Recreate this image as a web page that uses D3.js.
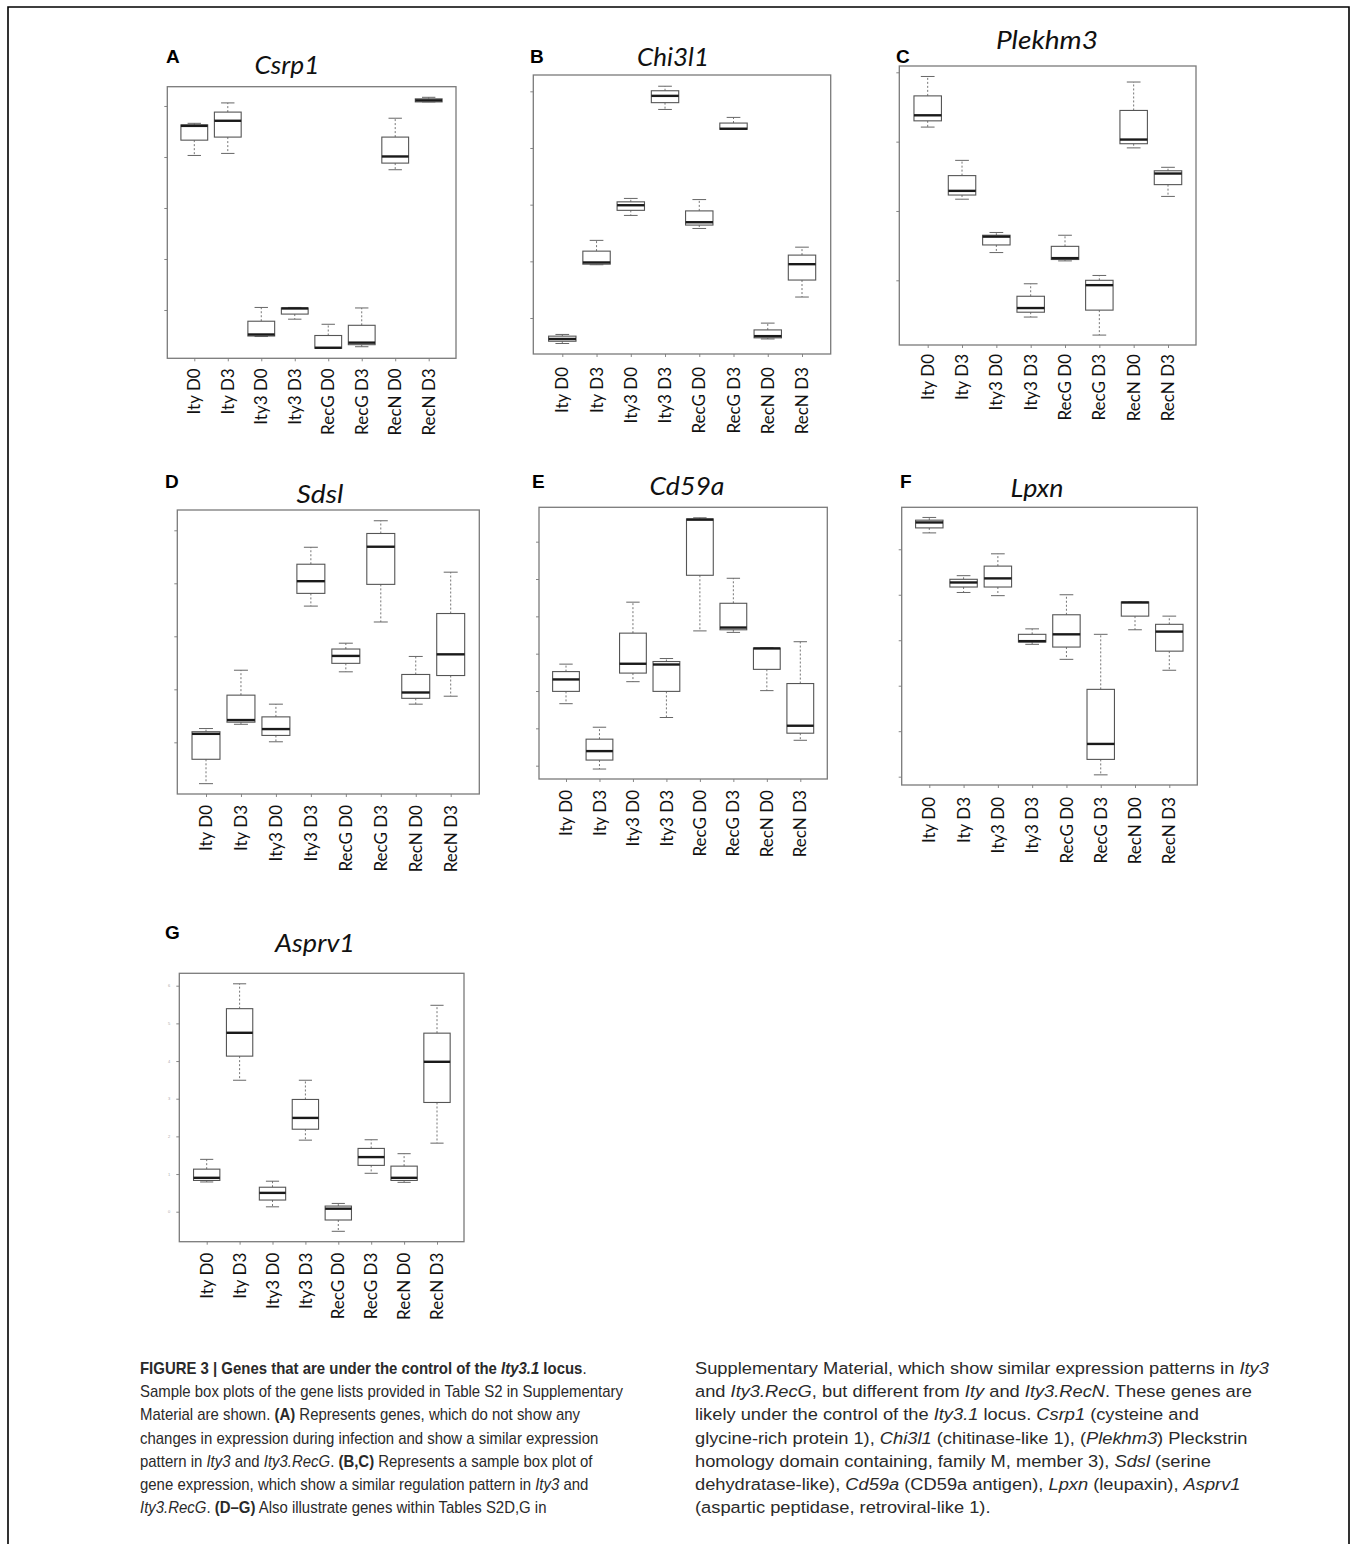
<!DOCTYPE html>
<html><head><meta charset="utf-8">
<script src="https://cdn.jsdelivr.net/npm/d3@7/dist/d3.min.js"></script>
<style>body{margin:0;background:#fff}svg{display:block}</style>
</head><body>
<svg id="fig" width="1354" height="1544"></svg>
<script>
// ---------- DATA (values in tick units; each row = [min, q1, median, q3, max]) ----------
const categories = ["Ity D0","Ity D3","Ity3 D0","Ity3 D3","RecG D0","RecG D3","RecN D0","RecN D3"];

const csrp1 = [
  [3.03,3.33,3.61,3.63,3.66],[3.07,3.39,3.71,3.88,4.06],[-0.52,-0.51,-0.48,-0.22,0.05],[-0.18,-0.08,0.03,0.04,0.05],
  [-0.75,-0.75,-0.74,-0.50,-0.28],[-0.72,-0.68,-0.64,-0.30,0.04],[2.75,2.88,3.01,3.39,3.76],[4.08,4.08,4.11,4.14,4.17]];
const chi3l1 = [
  [-0.45,-0.41,-0.37,-0.32,-0.29],[0.94,0.95,0.98,1.18,1.37],[1.81,1.90,1.99,2.05,2.11],[3.68,3.80,3.92,4.01,4.09],
  [1.58,1.64,1.69,1.89,2.09],[3.33,3.33,3.34,3.44,3.54],[-0.37,-0.35,-0.32,-0.21,-0.09],[0.37,0.67,0.95,1.11,1.25]];
const plekhm3 = [
  [2.21,2.30,2.38,2.66,2.94],[1.17,1.23,1.29,1.51,1.73],[0.40,0.51,0.63,0.65,0.69],[-0.53,-0.46,-0.40,-0.23,-0.05],
  [0.28,0.30,0.32,0.49,0.65],[-0.79,-0.43,-0.07,0.00,0.07],[1.91,1.97,2.03,2.45,2.86],[1.21,1.38,1.54,1.58,1.63]];
const sdsl = [
  [-0.78,-0.32,0.16,0.20,0.26],[0.34,0.38,0.42,0.89,1.36],[0.01,0.13,0.25,0.48,0.72],[2.57,2.81,3.04,3.36,3.68],
  [1.33,1.49,1.63,1.76,1.87],[2.27,2.98,3.69,3.94,4.18],[0.72,0.83,0.94,1.28,1.62],[0.87,1.26,1.66,2.43,3.21]];
const cd59a = [
  [1.66,1.99,2.31,2.52,2.72],[-0.09,0.15,0.39,0.71,1.03],[2.25,2.48,2.73,3.55,4.38],[1.29,1.99,2.71,2.79,2.87],
  [3.61,5.10,6.59,6.61,6.64],[3.57,3.64,3.70,4.35,5.02],[2.01,2.58,3.14,3.15,3.16],[0.68,0.87,1.07,2.20,3.32]];
const lpxn = [
  [5.36,5.47,5.59,5.64,5.70],[4.05,4.17,4.27,4.34,4.42],[3.98,4.17,4.36,4.63,4.90],[2.91,2.96,2.98,3.13,3.25],
  [2.58,2.85,3.13,3.56,4.00],[0.04,0.38,0.72,1.92,3.13],[3.23,3.53,3.83,3.84,3.84],[2.34,2.76,3.19,3.35,3.53]];
const asprv1 = [
  [0.79,0.83,0.90,1.13,1.39],[3.49,4.13,4.75,5.39,6.05],[0.13,0.31,0.50,0.65,0.81],[1.90,2.19,2.49,2.98,3.49],
  [-0.52,-0.22,0.08,0.15,0.22],[1.02,1.23,1.45,1.68,1.91],[0.78,0.83,0.90,1.21,1.54],[1.82,2.90,3.98,4.74,5.48]];

const ticksA = [0,1,2,3,4];
const ticksB = [0,1,2,3,4];
const ticksC = [0,1,2,3];
const ticksD = [0,1,2,3,4];
const ticksE = [0,1,2,3,4,5,6];
const ticksF = [0,1,2,3,4,5];
const ticksG = [0,1,2,3,4,5,6];

const panelLetters = ["A","B","C","D","E","F","G"];
const geneNames = ["Csrp1","Chi3l1","Plekhm3","Sdsl","Cd59a","Lpxn","Asprv1"];

// ---------- LAYOUT ----------
const layout = [
  {stats:csrp1,  ticks:ticksA, frame:[167.3,456,86.7,358.3],  xr:[194.3,428.7], yd:[-0.947,4.378], title:[287,74,65],  letter:[166,63],  gap:10},
  {stats:chi3l1, ticks:ticksB, frame:[533.3,830.7,75,354],    xr:[562.3,802],   yd:[-0.635,4.288], title:[673,66,72],  letter:[530,63],  gap:13},
  {stats:plekhm3,ticks:ticksC, frame:[899.3,1196,66,345],     xr:[927.7,1168],  yd:[-0.933,3.091], title:[1047,49,102],letter:[896,63],  gap:9},
  {stats:sdsl,   ticks:ticksD, frame:[177.3,479.3,510,794],   xr:[206,450.7],   yd:[-0.975,4.383], title:[320,503,47], letter:[165,488], gap:11},
  {stats:cd59a,  ticks:ticksE, frame:[539,827.3,507.3,779],   xr:[566,800.3],   yd:[-0.357,6.921], title:[687,495,75], letter:[532,488], gap:11},
  {stats:lpxn,   ticks:ticksF, frame:[901.7,1197.3,507.3,785],xr:[929.3,1169.3],yd:[-0.183,5.923], title:[1037,497,53],letter:[900,488], gap:12},
  {stats:asprv1, ticks:ticksG, frame:[179.3,464,973.3,1241.7],xr:[206.7,437],   yd:[-0.796,6.329], title:[315,952,80], letter:[165,939], gap:11, tinyLabels:true}
];

const svg = d3.select("#fig");
svg.append("rect").attr("width",1354).attr("height",1544).attr("fill","#fff");
svg.append("path").attr("d","M8,1550V7H1349V1550").attr("fill","none").attr("stroke","#000").attr("stroke-width",1.6);

const frameCol = "#7a7a7a", boxCol = "#555", whiskCol = "#666";

layout.forEach((p, i) => {
  const [x0,x1,y0,y1] = p.frame;
  const g = svg.append("g");
  const x = d3.scalePoint().domain(categories).range(p.xr);
  const y = d3.scaleLinear().domain(p.yd).range([y1, y0]);
  const step = x.step();
  const bw = 0.8 * step, sw = 0.5 * bw;

  // panel letter
  g.append("text").attr("x",p.letter[0]).attr("y",p.letter[1])
    .attr("font-family","Liberation Sans, Arial, sans-serif").attr("font-weight","bold")
    .attr("font-size",19).attr("fill","#000").text(panelLetters[i]);
  // title
  g.append("text").attr("x",p.title[0]).attr("y",p.title[1]).attr("text-anchor","middle")
    .attr("font-family","Lato, 'Open Sans', sans-serif").attr("font-style","italic")
    .attr("font-size",25).attr("fill","#111")
    .attr("textLength",p.title[2]).attr("lengthAdjust","spacingAndGlyphs")
    .text(geneNames[i]);

  // axes
  const ya = g.append("g").attr("transform",`translate(${x0},0)`)
    .call(d3.axisLeft(y).tickValues(p.ticks).tickSize(3).tickFormat(p.tinyLabels ? d3.format("d") : ""));
  ya.select(".domain").remove();
  ya.selectAll("line").attr("stroke",frameCol).attr("stroke-width",0.9);
  ya.selectAll("text").attr("font-size",4).attr("fill","#aaa").attr("x",-9);

  const xa = g.append("g").attr("transform",`translate(0,${y1})`)
    .call(d3.axisBottom(x).tickSize(3).tickFormat(""));
  xa.select(".domain").remove();
  xa.selectAll("line").attr("stroke",frameCol).attr("stroke-width",0.9);

  // category labels
  g.selectAll("text.cat").data(categories).join("text").attr("class","cat")
    .attr("transform", d => `translate(${x(d)},${y1 + p.gap}) rotate(-90)`)
    .attr("text-anchor","end").attr("dy","0.36em")
    .attr("font-family","Lato, 'Open Sans', sans-serif").attr("font-size",17).attr("fill","#111")
    .text(d => d);

  // frame
  g.append("rect").attr("x",x0).attr("y",y0).attr("width",x1-x0).attr("height",y1-y0)
    .attr("fill","none").attr("stroke",frameCol).attr("stroke-width",1.3);

  // boxes
  const bx = g.selectAll("g.box").data(p.stats.map((s,k)=>({c:categories[k], s}))).join("g").attr("class","box");
  bx.each(function(d){
    const cx = x(d.c), [mn,q1,md,q3,mx] = d.s;
    const b = d3.select(this);
    b.append("line").attr("x1",cx).attr("x2",cx).attr("y1",y(q3)).attr("y2",y(mx))
      .attr("stroke",whiskCol).attr("stroke-width",0.9).attr("stroke-dasharray","2,2");
    b.append("line").attr("x1",cx).attr("x2",cx).attr("y1",y(q1)).attr("y2",y(mn))
      .attr("stroke",whiskCol).attr("stroke-width",0.9).attr("stroke-dasharray","2,2");
    b.append("line").attr("x1",cx-sw/2).attr("x2",cx+sw/2).attr("y1",y(mx)).attr("y2",y(mx))
      .attr("stroke",whiskCol).attr("stroke-width",1);
    b.append("line").attr("x1",cx-sw/2).attr("x2",cx+sw/2).attr("y1",y(mn)).attr("y2",y(mn))
      .attr("stroke",whiskCol).attr("stroke-width",1);
    b.append("rect").attr("x",cx-bw/2).attr("y",y(q3)).attr("width",bw).attr("height",Math.max(0.5,y(q1)-y(q3)))
      .attr("fill","#fff").attr("stroke",boxCol).attr("stroke-width",1.1);
    b.append("line").attr("x1",cx-bw/2).attr("x2",cx+bw/2).attr("y1",y(md)).attr("y2",y(md))
      .attr("stroke","#1a1a1a").attr("stroke-width",2.4);
  });
});

// ---------- CAPTION ----------
const capLeft = [
  [["FIGURE 3 | Genes that are under the control of the ","b"],["Ity3.1","bi"],[" locus","b"],[".",""]],
  [["Sample box plots of the gene lists provided in Table S2 in Supplementary",""]],
  [["Material are shown. ",""],["(A)","b"],[" Represents genes, which do not show any",""]],
  [["changes in expression during infection and show a similar expression",""]],
  [["pattern in ",""],["Ity3","i"],[" and ",""],["Ity3.RecG","i"],[". ",""],["(B,C)","b"],[" Represents a sample box plot of",""]],
  [["gene expression, which show a similar regulation pattern in ",""],["Ity3","i"],[" and",""]],
  [["Ity3.RecG","i"],[". ",""],["(D–G)","b"],[" Also illustrate genes within Tables S2D,G in",""]]
];
const capRight = [
  [["Supplementary Material, which show similar expression patterns in ",""],["Ity3","i"]],
  [["and ",""],["Ity3.RecG","i"],[", but different from ",""],["Ity","i"],[" and ",""],["Ity3.RecN","i"],[". These genes are",""]],
  [["likely under the control of the ",""],["Ity3.1","i"],[" locus. ",""],["Csrp1","i"],[" (cysteine and",""]],
  [["glycine-rich protein 1), ",""],["Chi3l1","i"],[" (chitinase-like 1), (",""],["Plekhm3","i"],[") Pleckstrin",""]],
  [["homology domain containing, family M, member 3), ",""],["Sdsl","i"],[" (serine",""]],
  [["dehydratase-like), ",""],["Cd59a","i"],[" (CD59a antigen), ",""],["Lpxn","i"],[" (leupaxin), ",""],["Asprv1","i"]],
  [["(aspartic peptidase, retroviral-like 1).",""]]
];
function drawCol(lines, x0, yBase, refWidth, refIdx){
  const texts = lines.map((segs, k) => {
    const t = svg.append("text").attr("x",0).attr("y",0)
      .attr("font-family","'Liberation Sans Narrow','Liberation Sans',Arial,sans-serif")
      .attr("font-size",17).attr("fill","#2a2a2a");
    segs.forEach(([s,st]) => {
      t.append("tspan").attr("font-weight", st.includes("b") ? "bold" : "normal")
        .attr("font-style", st.includes("i") ? "italic" : "normal").text(s);
    });
    return t;
  });
  const sc = refWidth / texts[refIdx].node().getComputedTextLength();
  texts.forEach((t,k) => t.attr("transform",`translate(${x0},${yBase + k*23.2}) scale(${sc},1)`));
}
drawCol(capLeft, 140, 1374, 483, 1);
drawCol(capRight, 695, 1374, 553, 3);
</script>
</body></html>
